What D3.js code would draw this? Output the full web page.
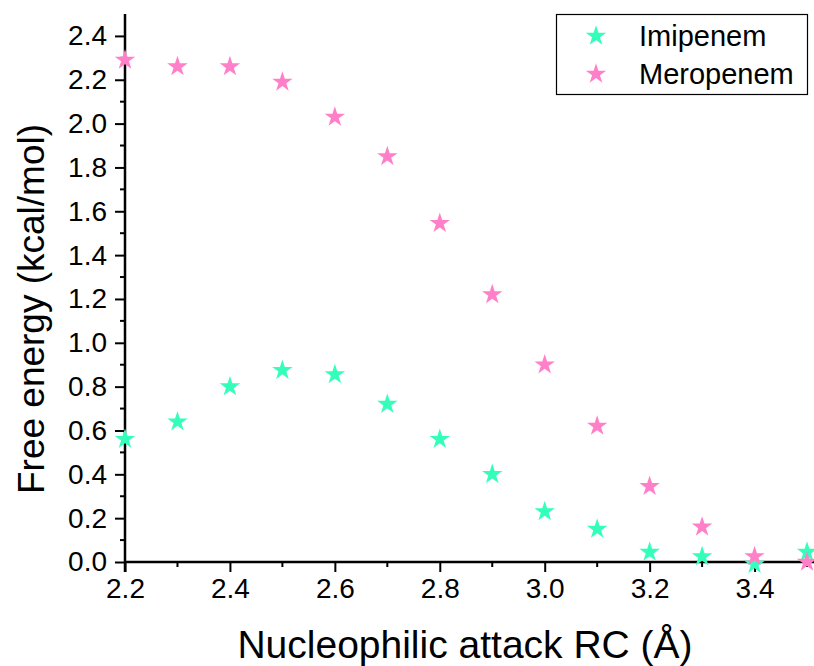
<!DOCTYPE html>
<html>
<head>
<meta charset="utf-8">
<script src="https://cdn.jsdelivr.net/npm/d3@7"></script>
<style>
  body { margin: 0; background: #fff; }
  svg { display: block; font-family: "Liberation Sans", Arial, sans-serif; }
</style>
</head>
<body>
<svg id="chart" width="814" height="666"></svg>
<script>
// reaction coordinate (Å)
var rc = [2.2, 2.3, 2.4, 2.5, 2.6, 2.7, 2.8, 2.9, 3.0, 3.1, 3.2, 3.3, 3.4, 3.5];
var imipenem = [0.56, 0.64, 0.80, 0.875, 0.855, 0.72, 0.56, 0.40, 0.23, 0.15, 0.045, 0.025, -0.01, 0.045];
var meropenem = [2.29, 2.26, 2.26, 2.19, 2.03, 1.85, 1.545, 1.22, 0.90, 0.62, 0.345, 0.16, 0.025, 0.0];
var seriesNames = ['Imipenem', 'Meropenem'];
var seriesColors = ['#33ffbb', '#ff80c8'];
var xTicks = [2.2, 2.4, 2.6, 2.8, 3.0, 3.2, 3.4];
var yTicks = [0, 0.2, 0.4, 0.6, 0.8, 1.0, 1.2, 1.4, 1.6, 1.8, 2.0, 2.2, 2.4];

(function () {
    var svg = d3.select('#chart');
    var mLeft = 125, mRight = 814, mTop = 14, mBottom = 562;

    var x = d3.scaleLinear().domain([2.2, 3.5133]).range([mLeft, mRight]);
    var y = d3.scaleLinear().domain([0, 2.5]).range([mBottom, mTop]);

    var xMinor = d3.range(2.3, 3.55, 0.2);
    var yMinor = d3.range(0.1, 2.5, 0.2);

    var xAxis = svg.append('g')
        .attr('transform', 'translate(0,' + mBottom + ')')
        .call(d3.axisBottom(x).tickValues(xTicks).tickSize(10).tickPadding(6)
            .tickFormat(d3.format('.1f')));
    xAxis.select('.domain').attr('d', 'M' + mLeft + ',0H' + mRight);

    svg.append('g')
        .attr('transform', 'translate(0,' + mBottom + ')')
        .selectAll('line')
        .data(xMinor).enter()
        .append('line')
        .attr('x1', function (d) { return x(d); })
        .attr('x2', function (d) { return x(d); })
        .attr('y1', 0).attr('y2', 5)
        .attr('stroke', '#000').attr('stroke-width', 2);

    var yAxis = svg.append('g')
        .attr('transform', 'translate(' + mLeft + ',0)')
        .call(d3.axisLeft(y).tickValues(yTicks).tickSize(10).tickPadding(8)
            .tickFormat(d3.format('.1f')));
    yAxis.select('.domain').attr('d', 'M0,' + mTop + 'V' + (mBottom + 10));

    svg.append('g')
        .attr('transform', 'translate(' + mLeft + ',0)')
        .selectAll('line')
        .data(yMinor).enter()
        .append('line')
        .attr('y1', function (d) { return y(d); })
        .attr('y2', function (d) { return y(d); })
        .attr('x1', 0).attr('x2', -5)
        .attr('stroke', '#000').attr('stroke-width', 2);

    svg.selectAll('.domain').attr('stroke', '#000').attr('stroke-width', 2.5);
    svg.selectAll('.tick line').attr('stroke', '#000').attr('stroke-width', 2);
    svg.selectAll('.tick text')
        .attr('fill', '#000')
        .style('font-size', '28px')
        .style('font-family', '"Liberation Sans", Arial, sans-serif');

    // axis titles
    svg.append('text')
        .attr('x', 465).attr('y', 658)
        .attr('text-anchor', 'middle')
        .attr('font-size', 39)
        .text('Nucleophilic attack RC (Å)');

    svg.append('text')
        .attr('transform', 'translate(44,309) rotate(-90)')
        .attr('text-anchor', 'middle')
        .attr('font-size', 37)
        .text('Free energy (kcal/mol)');

    // data
    var star = d3.symbol().type(d3.symbolStar).size(130);
    var allSeries = [imipenem, meropenem];

    allSeries.forEach(function (vals, s) {
        svg.append('g').selectAll('path')
            .data(vals).enter()
            .append('path')
            .attr('d', star)
            .attr('transform', function (d, i) {
                return 'translate(' + x(rc[i]) + ',' + y(d) + ')';
            })
            .attr('fill', seriesColors[s]);
    });

    // legend
    var legend = svg.append('g');
    legend.append('rect')
        .attr('x', 556.5).attr('y', 14.5)
        .attr('width', 251).attr('height', 80)
        .attr('fill', 'none').attr('stroke', '#000').attr('stroke-width', 1.2);

    seriesNames.forEach(function (name, s) {
        var ly = 36 + s * 38;
        legend.append('path')
            .attr('d', star)
            .attr('transform', 'translate(596,' + ly + ')')
            .attr('fill', seriesColors[s]);
        legend.append('text')
            .attr('x', 639).attr('y', ly + 10)
            .attr('font-size', 29)
            .text(name);
    });
})();
</script>
</body>
</html>
